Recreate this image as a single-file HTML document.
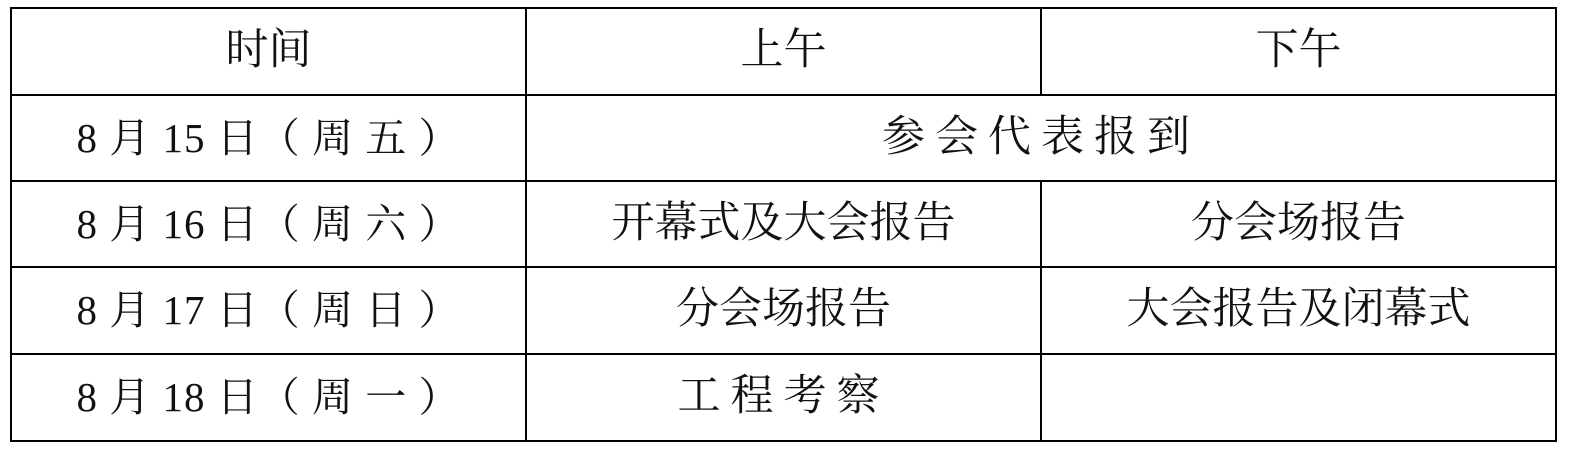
<!DOCTYPE html>
<html><head><meta charset="utf-8"><style>
html,body{margin:0;padding:0;background:#fff;width:1580px;height:453px;overflow:hidden}
.l{position:absolute;background:#000}
.t{position:absolute;font-family:"Liberation Serif","Noto Serif CJK SC",serif;font-size:43px;color:#111;text-align:center;line-height:86px;height:86px;white-space:pre}
.d{font-size:41px;letter-spacing:1px}
</style></head><body>
<div class="l" style="left:10px;top:7px;width:1547px;height:2px"></div>
<div class="l" style="left:10px;top:94px;width:1547px;height:2px"></div>
<div class="l" style="left:10px;top:180px;width:1547px;height:2px"></div>
<div class="l" style="left:10px;top:266px;width:1547px;height:2px"></div>
<div class="l" style="left:10px;top:353px;width:1547px;height:2px"></div>
<div class="l" style="left:10px;top:440px;width:1547px;height:2px"></div>
<div class="l" style="left:10px;top:7px;width:2px;height:435px"></div>
<div class="l" style="left:525px;top:7px;width:2px;height:435px"></div>
<div class="l" style="left:1040px;top:7px;width:2px;height:88px"></div>
<div class="l" style="left:1040px;top:180px;width:2px;height:262px"></div>
<div class="l" style="left:1555px;top:7px;width:2px;height:435px"></div>

<div class="t" style="left:12px;width:513px;top:8px">时间</div>
<div class="t" style="left:527px;width:513px;top:8px">上午</div>
<div class="t" style="left:1042px;width:513px;top:8px">下午</div>

<div class="t d" style="left:12px;width:513px;top:95px">8 月 15 日（ 周 五 ）</div>
<div class="t" style="left:527px;width:1028px;top:95px;letter-spacing:10px">参会代表报到</div>

<div class="t d" style="left:12px;width:513px;top:181px">8 月 16 日（ 周 六 ）</div>
<div class="t" style="left:527px;width:513px;top:181px">开幕式及大会报告</div>
<div class="t" style="left:1042px;width:513px;top:181px">分会场报告</div>

<div class="t d" style="left:12px;width:513px;top:267px">8 月 17 日（ 周 日 ）</div>
<div class="t" style="left:527px;width:513px;top:267px">分会场报告</div>
<div class="t" style="left:1042px;width:513px;top:267px">大会报告及闭幕式</div>

<div class="t d" style="left:12px;width:513px;top:354px">8 月 18 日（ 周 一 ）</div>
<div class="t" style="left:527px;width:513px;top:354px;letter-spacing:10px">工程考察</div>
</body></html>
